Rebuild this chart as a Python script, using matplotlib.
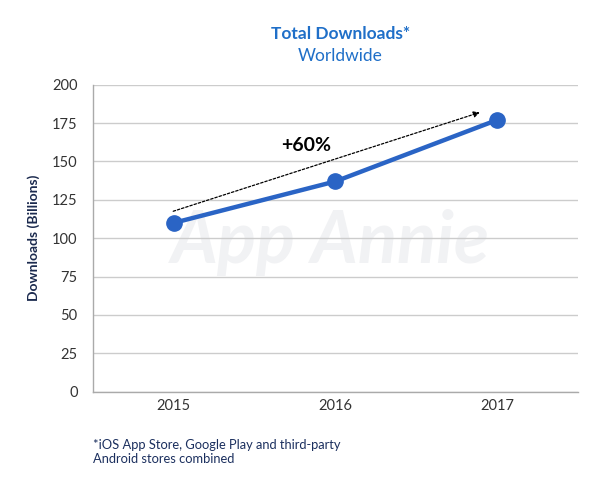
import matplotlib
matplotlib.use('Agg')
import matplotlib.pyplot as plt

years = ['2015', '2016', '2017']
downloads = [110, 137, 177]
y_ticks = [0, 25, 50, 75, 100, 125, 150, 175, 200]

plt.rcParams['font.family'] = ['Lato', 'DejaVu Sans']

fig = plt.figure(figsize=(6, 4.84), dpi=100)
ax = fig.add_axes([0.155, 0.1907, 0.808, 0.6343])

x = list(range(len(years)))

# watermark
ax.text(0.97, 84, 'App Annie', fontsize=52, style='italic', fontweight='bold',
        color='#f1f2f4', ha='center', va='baseline', zorder=0)

ax.plot(x, downloads, color='#2a64c5', lw=3.2, marker='o', markersize=11,
        markerfacecolor='#2a64c5', markeredgecolor='#2a64c5', zorder=3)

# growth arrow
ax.annotate('', xy=(1.91, 182.5), xytext=(-0.02, 117),
            arrowprops=dict(arrowstyle='-|>', linestyle=(0, (2, 1.5)), color='black',
                            lw=0.9, mutation_scale=9))
ax.text(0.82, 160.5, '+60%', fontsize=14, fontweight='bold', color='black',
        ha='center', va='center')

ax.set_xlim(-0.5, 2.5)
ax.set_ylim(0, 200)
ax.set_yticks(y_ticks)
ax.set_xticks(x)
ax.set_xticklabels(years)
ax.tick_params(axis='both', length=0, labelsize=10.5, colors='#333333')
ax.tick_params(axis='y', pad=11)
ax.tick_params(axis='x', pad=5)
ax.grid(axis='y', color='#cccccc', lw=1)
ax.set_axisbelow(True)
for s in ['top', 'right']:
    ax.spines[s].set_visible(False)
for s in ['left', 'bottom']:
    ax.spines[s].set_color('#aaaaaa')
    ax.spines[s].set_linewidth(1)

ax.set_ylabel('Downloads (Billions)', fontsize=10, fontweight='bold', color='#1b2a4e', labelpad=9)

fig.text(0.567, 0.93, 'Total Downloads*', fontsize=12.5, fontweight='bold',
         color='#1f6fc8', ha='center', va='center')
fig.text(0.567, 0.884, 'Worldwide', fontsize=12.5, color='#1f6fc8', ha='center', va='center')

fig.text(0.155, 0.066, '*iOS App Store, Google Play and third-party\nAndroid stores combined',
         fontsize=9.3, color='#1b2f5e', ha='left', va='center', linespacing=1.2)

fig.savefig('out.png', dpi=100)
